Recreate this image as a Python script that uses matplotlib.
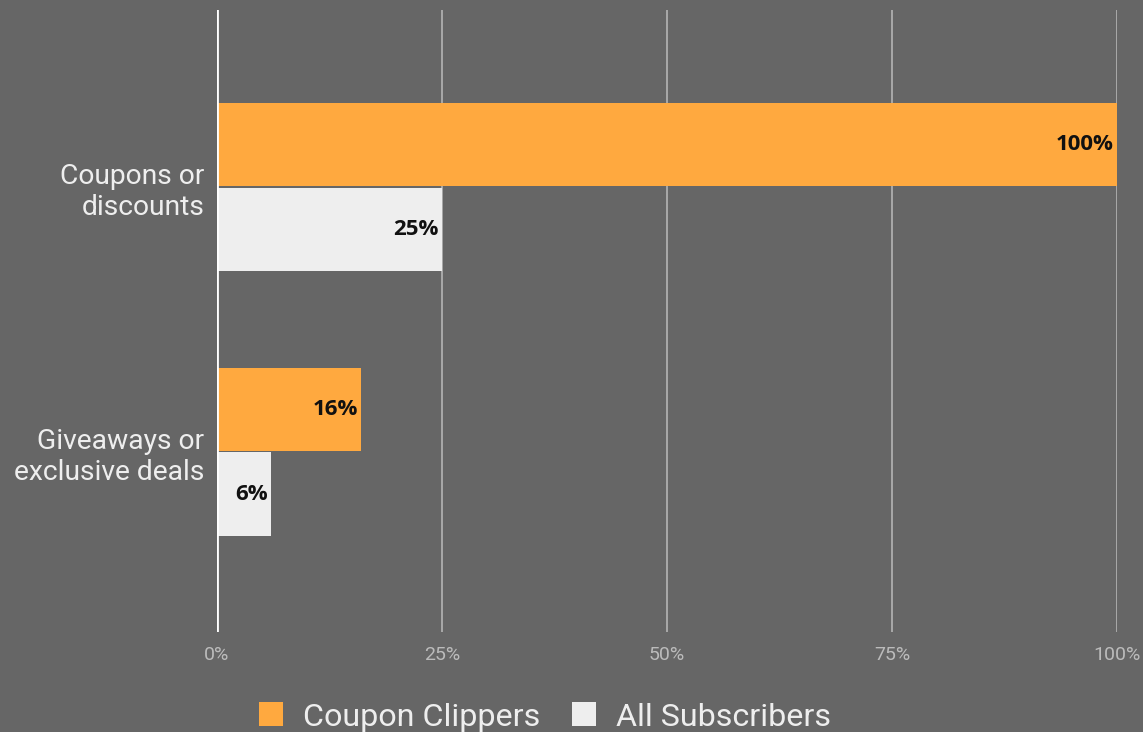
import matplotlib
matplotlib.use("Agg")
import matplotlib.pyplot as plt
import matplotlib.transforms as mtransforms
import numpy as np
from matplotlib.patches import Patch

categories = ["Coupons or\ndiscounts", "Giveaways or\nexclusive deals"]
series_names = ["Coupon Clippers", "All Subscribers"]
coupon_clippers = [100, 16]
all_subscribers = [25, 6]
tick_values = [0, 25, 50, 75, 100]
tick_labels = ["0%", "25%", "50%", "75%", "100%"]

bg = "#666666"
orange = "#FFA93F"
light = "#EEEEEE"

plt.rcParams["font.family"] = ["Roboto", "DejaVu Sans"]

fig = plt.figure(figsize=(11.43, 7.32), dpi=100, facecolor=bg)
ax = fig.add_axes([0.1899, 0.1366, 0.7874, 0.8497], facecolor=bg)

y = np.arange(len(categories))
h = 0.316
gap = 0.004
b1 = ax.barh(y - h / 2 - gap / 2, coupon_clippers, height=h, color=orange, zorder=3)
b2 = ax.barh(y + h / 2 + gap / 2, all_subscribers, height=h, color=light, zorder=3)

# value labels sit just inside the end of each bar
for bars, vals in ((b1, coupon_clippers), (b2, all_subscribers)):
    for bar, v in zip(bars, vals):
        ax.text(v - 0.35, bar.get_y() + bar.get_height() / 2, f"{v}%",
                ha="right", va="center", fontsize=16, fontweight="bold",
                color="#111111", family=["Open Sans", "DejaVu Sans"], zorder=4)

ax.set_xlim(0, 100)
ax.set_ylim(1.68, -0.668)
ax.set_yticks(y)
ax.set_yticklabels(categories, fontsize=20.3, color="#EEEEEE", linespacing=1.2)
# nudge category labels up a little
nudge = mtransforms.ScaledTranslation(0, 3 / 72, fig.dpi_scale_trans)
for lbl in ax.get_yticklabels():
    lbl.set_transform(lbl.get_transform() + nudge)
ax.set_xticks(tick_values)
ax.set_xticklabels(tick_labels, fontsize=14, color="#BBBBBB")
ax.tick_params(axis="both", length=0)
ax.tick_params(axis="x", pad=10)
ax.tick_params(axis="y", pad=9)

for s in ax.spines.values():
    s.set_visible(False)
ax.grid(axis="x", color="#B5B5B5", linewidth=1.2, zorder=1)
ax.axvline(0, color="white", linewidth=2, zorder=5)

handles = [Patch(facecolor=orange, label=series_names[0]),
           Patch(facecolor=light, label=series_names[1])]
leg = fig.legend(handles=handles, loc="center", bbox_to_anchor=(545 / 1143, 1 - 717 / 732),
                 ncol=2, frameon=False, fontsize=23.2, handlelength=0.75, handleheight=0.75,
                 handletextpad=0.6, columnspacing=1.0)
for t in leg.get_texts():
    t.set_color("#EEEEEE")

fig.savefig("out.png", dpi=100, facecolor=bg)
